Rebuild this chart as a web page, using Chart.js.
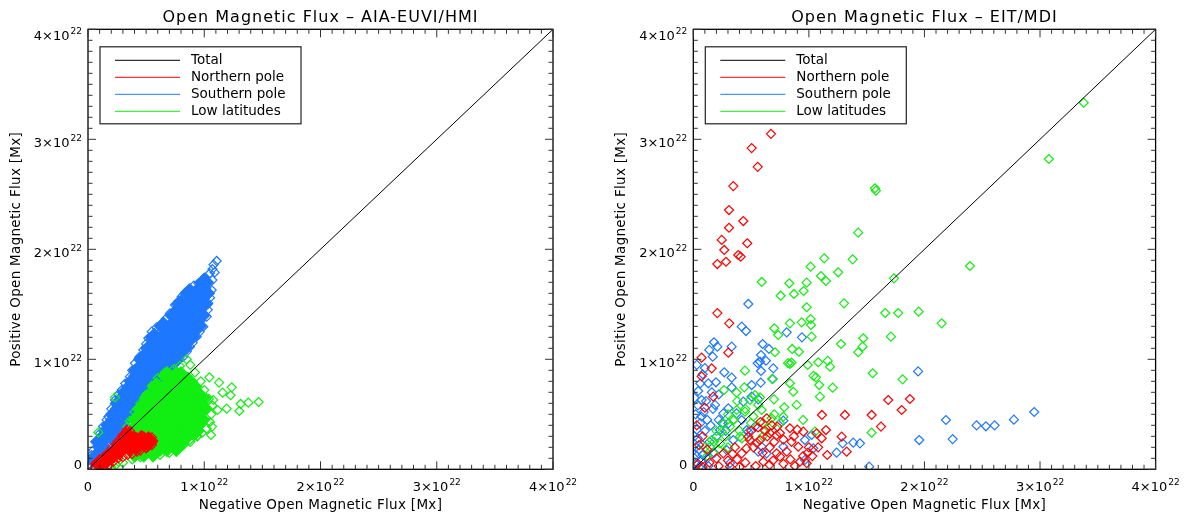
<!DOCTYPE html>
<html>
<head>
<meta charset="utf-8">
<script src="https://cdn.jsdelivr.net/npm/chart.js@4.4.1/dist/chart.umd.min.js"></script>
<style>
  body { margin: 0; background: #fff; }
  .panel { position: absolute; top: 0; width: 594px; height: 519px; }
</style>
</head>
<body>
<div class="panel" style="left:0"><canvas id="aiaChart" width="594" height="519"></canvas></div>
<div class="panel" style="left:594px"><canvas id="eitChart" width="594" height="519"></canvas></div>
<script>
// values in units of 10^22 Mx  (x = negative flux, y = positive flux)
const tickValues = [0, 1, 2, 3, 4];
const tickLabels = ['0', '1×10^22', '2×10^22', '3×10^22', '4×10^22'];
const minorStep = 0.1;
const seriesNames = ['Total', 'Northern pole', 'Southern pole', 'Low latitudes'];
const totalLine = [[0, 0], [4, 4]];

// ---- AIA-EUVI/HMI : dense clouds (core = overlapping markers, edge = outer markers)
const aiaSouthCore = [
  [0.06,0.1],
  [0.12,0.2],
  [0.15,0.3],[0.21,0.3],
  [0.19,0.4],[0.27,0.4],
  [0.23,0.5],[0.31,0.5],[0.35,0.5],
  [0.27,0.6],[0.35,0.6],[0.42,0.6],
  [0.33,0.7],[0.41,0.7],[0.49,0.7],
  [0.39,0.8],[0.47,0.8],[0.55,0.8],[0.58,0.8],
  [0.43,0.9],[0.51,0.9],[0.59,0.9],[0.67,0.9],
  [0.47,1.0],[0.55,1.0],[0.63,1.0],[0.71,1.0],[0.75,1.0],
  [0.53,1.1],[0.61,1.1],[0.69,1.1],[0.77,1.1],[0.82,1.1],
  [0.57,1.2],[0.65,1.2],[0.73,1.2],[0.81,1.2],[0.88,1.2],
  [0.65,1.3],[0.73,1.3],[0.81,1.3],[0.89,1.3],[0.94,1.3],
  [0.74,1.4],[0.82,1.4],[0.90,1.4],[0.97,1.4],
  [0.80,1.5],[0.88,1.5],[0.96,1.5],[0.99,1.5],
  [0.87,1.6],[0.95,1.6],[1.01,1.6],
  [1.00,1.7],
  [0.10,0.25],[0.17,0.35],[0.23,0.45],[0.27,0.55],[0.31,0.65],[0.37,0.75],[0.43,0.85],
  [0.51,0.95],[0.57,1.05],[0.63,1.15],[0.69,1.25],[0.77,1.35],[0.85,1.45],[0.92,1.55],
  [0.98,1.65],[0.39,0.65],[0.45,0.75],[0.53,0.85],[0.61,0.95],[0.67,1.05],[0.75,1.15],
  [0.85,1.25],[0.93,1.35],[0.73,1.05],[0.79,1.25],[0.85,1.35]
];
const aiaSouthEdge = [
  [0.01,0.03],[0.04,0.06],[0.07,0.10],[0.10,0.15],[0.13,0.20],[0.17,0.26],
  [0.017,0.085],[0.03,0.13],[0.046,0.175],[0.07,0.25],[0.103,0.327],[0.13,0.39],
  [0.16,0.45],[0.175,0.479],[0.20,0.55],[0.232,0.63],[0.26,0.68],[0.29,0.721],
  [0.32,0.78],[0.361,0.842],[0.38,0.90],[0.404,0.964],[0.44,1.02],[0.476,1.085],
  [0.50,1.14],[0.519,1.191],[0.548,1.251],[0.59,1.29],[0.634,1.327],[0.67,1.37],
  [0.705,1.418],[0.748,1.494],[0.78,1.53],[0.806,1.569],[0.84,1.61],[0.877,1.645],
  [0.91,1.67],[0.949,1.691],[1.00,1.74],[1.049,1.782],[1.07,1.82],[1.107,1.894],
  [1.08,1.86],[1.09,1.79],[1.07,1.72],[1.064,1.63],[1.05,1.56],[1.035,1.509],
  [1.03,1.45],[1.021,1.388],[0.992,1.297],[0.96,1.25],[0.935,1.206],[0.90,1.15],
  [0.877,1.115],[0.85,1.07],[0.82,1.024],[0.78,0.99],[0.74,0.95]
];
const aiaLowCore = [
  [0.40,0.15],[0.48,0.15],[0.56,0.15],
  [0.47,0.25],[0.55,0.25],[0.63,0.25],[0.71,0.25],[0.79,0.25],
  [0.40,0.35],[0.48,0.35],[0.56,0.35],[0.64,0.35],[0.72,0.35],[0.80,0.35],[0.88,0.35],[0.92,0.35],
  [0.42,0.45],[0.50,0.45],[0.58,0.45],[0.66,0.45],[0.74,0.45],[0.82,0.45],[0.90,0.45],[0.97,0.45],
  [0.46,0.55],[0.54,0.55],[0.62,0.55],[0.70,0.55],[0.78,0.55],[0.86,0.55],[0.94,0.55],[0.99,0.55],
  [0.52,0.65],[0.60,0.65],[0.68,0.65],[0.76,0.65],[0.84,0.65],[0.92,0.65],[0.97,0.65],
  [0.59,0.75],[0.67,0.75],[0.75,0.75],[0.83,0.75],[0.90,0.75],
  [0.68,0.85],[0.76,0.85],[0.80,0.85],
  [0.60,0.20],[0.68,0.20],[0.76,0.20],[0.52,0.30],[0.60,0.30],[0.68,0.30],[0.76,0.30],[0.84,0.30],
  [0.44,0.40],[0.52,0.40],[0.60,0.40],[0.68,0.40],[0.76,0.40],[0.84,0.40],[0.92,0.40],
  [0.46,0.50],[0.54,0.50],[0.62,0.50],[0.70,0.50],[0.78,0.50],[0.86,0.50],[0.94,0.50],
  [0.56,0.60],[0.64,0.60],[0.72,0.60],[0.80,0.60],[0.88,0.60],[0.95,0.60],
  [0.63,0.70],[0.71,0.70],[0.79,0.70],[0.87,0.70],[0.72,0.80],[0.80,0.80],[0.86,0.80]
];
const aiaLowEdge = [
  [0.849,1.0],[0.79,0.94],[0.74,0.91],[0.66,0.88],[0.60,0.83],[0.55,0.76],[0.50,0.68],
  [0.45,0.60],[0.40,0.52],[0.36,0.44],[0.34,0.39],[0.88,0.95],[0.92,0.88],[0.97,0.80],
  [1.00,0.72],[1.04,0.64],[1.07,0.58],[1.06,0.50],[1.05,0.43],[1.02,0.37],[0.98,0.33],
  [0.94,0.30],[0.88,0.25],[0.82,0.22],[0.76,0.18],[0.70,0.15],[0.62,0.13],[0.58,0.14],
  [0.45,0.11],[0.38,0.09],[0.30,0.06],[0.24,0.04],[0.20,0.02],
  [1.044,0.836],[1.127,0.788],[1.236,0.745],[1.158,0.697],[1.227,0.673],[1.313,0.594],
  [1.379,0.606],[1.468,0.612],[1.302,0.53],[1.193,0.551],[1.115,0.539],[1.078,0.63],
  [1.021,0.645],[1.067,0.388],[1.058,0.312],[0.94,0.303],[0.877,0.267],[0.82,0.221],
  [0.089,0.335],[0.232,0.654],[0.619,0.16],[0.763,0.191],[0.261,0.069],[0.447,0.13],
  [0.175,0.024],[0.404,0.112]
];
const aiaNorthCore = [
  [0.10,0.05],[0.16,0.09],[0.22,0.14],[0.27,0.17],[0.28,0.22],[0.32,0.26],[0.33,0.30],
  [0.36,0.20],[0.42,0.22],[0.48,0.24],[0.52,0.25],[0.40,0.26],[0.46,0.27]
];
const aiaNorthEdge = [
  [0.06,0.01],[0.10,0.07],[0.15,0.13],[0.20,0.19],[0.25,0.25],[0.30,0.31],[0.333,0.357],
  [0.36,0.35],[0.37,0.31],[0.42,0.29],[0.48,0.30],[0.52,0.30],[0.55,0.29],[0.56,0.26],
  [0.55,0.22],[0.50,0.19],[0.45,0.17],[0.38,0.14],[0.30,0.11],[0.22,0.07],[0.14,0.03],
  [0.18,0.04],[0.26,0.10],[0.34,0.13],[0.42,0.16],[0.50,0.20]
];

// ---- EIT/MDI : sparse scatter
const eitNorth = [
  [0.672,3.05],[0.505,2.92],[0.557,2.75],[0.346,2.575],[0.309,2.357],[0.433,2.257],[0.309,2.196],
  [0.246,2.085],[0.467,2.055],[0.268,1.994],[0.389,1.948],[0.41,1.933],[0.208,1.866],[0.283,1.887],
  [0.208,1.42],[0.311,1.327],[0.303,1.06],[0.072,1.015],[0.159,0.918],[0.072,0.845],[0.173,0.66],
  [1.687,0.63],[1.874,0.639],[1.803,0.539],[1.113,0.494],[1.312,0.494],[1.543,0.494],[1.624,0.388],
  [1.148,0.357],[1.284,0.297],[1.159,0.13],[1.327,0.16],
  [0.635,0.464],[0.727,0.388],[0.68,0.40],[0.836,0.373],[0.90,0.36],[0.952,0.342],[1.067,0.327],
  [1.111,0.282],[0.87,0.30],[0.908,0.205],[0.808,0.16],[0.75,0.115],[0.84,0.09],[0.923,0.069],
  [0.981,0.055],[0.577,0.266],[0.49,0.266],[0.52,0.20],[0.419,0.145],[0.36,0.20],[0.26,0.145],
  [0.20,0.10],[0.14,0.06],[0.08,0.02],[0.317,0.024],[0.45,0.06],[0.606,0.069],[0.69,0.08],
  [0.721,0.145],[0.476,0.297],[0.55,0.24],[0.663,0.327],[0.75,0.33],[0.62,0.35],[0.56,0.38],
  [0.50,0.35],[0.70,0.25],[0.78,0.27],[0.66,0.20],[0.60,0.15],[0.38,0.09],[0.30,0.08],[0.22,0.03],
  [0.54,0.03],[0.85,0.25],[1.00,0.20],[1.03,0.12],[0.95,0.12],[0.04,0.05],[0.10,0.56],[0.03,0.40],
  [0.08,0.30],[0.05,0.22],[0.12,0.18],[0.58,0.43],[0.64,0.30],[0.72,0.31],[0.66,0.04],[0.78,0.05],
  [0.88,0.03],[0.99,0.15],[0.40,0.02],[0.34,0.14],[0.46,0.19],[1.08,0.20]
];
const eitSouth = [
  [0.476,1.503],[0.419,1.297],[0.456,1.257],[0.808,1.245],[0.94,1.20],[0.179,1.155],[0.208,1.115],
  [0.138,1.085],[0.168,1.024],[0.332,1.115],[0.60,1.139],[0.655,1.094],[0.586,1.039],[0.577,0.978],
  [0.629,0.987],[0.557,0.964],[0.586,0.894],[0.692,0.918],[0.268,0.882],[0.332,0.833],[0.081,0.864],
  [0.196,0.791],[0.13,0.782],[0.505,0.766],[0.583,0.788],[0.687,0.821],[0.332,0.745],[0.043,0.712],
  [0.072,0.63],[0.188,0.585],[0.433,0.615],[0.562,0.636],[0.505,0.66],[0.303,0.555],[0.26,0.509],
  [0.375,0.509],[0.779,0.442],[1.945,0.89],[1.955,0.266],[1.442,0.236],[1.384,0.242],[1.292,0.236],
  [1.24,0.151],[1.522,0.024],[1.038,0.191],[0.966,0.266],[1.024,0.312],[0.966,0.085],[0.592,0.205],
  [0.635,0.145],[0.317,0.055],[0.462,0.357],[0.779,0.205],[2.186,0.448],[2.244,0.275],[2.451,0.40],
  [2.532,0.391],[2.607,0.40],[2.774,0.451],[2.95,0.521],
  [0.419,0.448],[0.534,0.388],[0.476,0.34],[0.303,0.418],[0.231,0.357],[0.346,0.266],[0.289,0.175],
  [0.562,0.16],[0.02,0.05],[0.03,0.12],[0.02,0.20],[0.05,0.18],[0.04,0.28],[0.08,0.22],[0.10,0.35],
  [0.03,0.36],[0.06,0.42],[0.12,0.45],[0.02,0.50],[0.09,0.52],[0.15,0.40],[0.04,0.58],[0.11,0.62],
  [0.16,0.70],[0.22,0.68],[0.25,0.42],[0.20,0.30],[0.14,0.25],[0.07,0.08],[0.12,0.10],[0.18,0.15],
  [0.01,0.30],[0.01,0.65],[0.06,0.78],[0.10,0.92],[0.03,0.95],[0.22,0.45],[0.28,0.35],[0.01,0.10],
  [0.05,0.02],[0.13,0.03],[0.08,0.13],[0.17,0.55],[0.07,0.48]
];
const eitLow = [
  [1.572,2.555],[1.58,2.533],[1.427,2.151],[1.133,1.918],[1.379,1.909],[1.015,1.842],[1.254,1.791],
  [0.592,1.703],[0.831,1.691],[0.981,1.697],[1.105,1.757],[1.148,1.712],[1.736,1.736],[0.756,1.578],
  [0.871,1.594],[0.955,1.621],[1.304,1.509],[0.981,1.473],[1.661,1.421],[1.773,1.421],[1.95,1.433],
  [3.378,3.333],[3.077,2.821],[2.394,1.848],[2.149,1.327],
  [0.836,1.327],[0.938,1.336],[1.015,1.366],[1.018,1.312],[0.701,1.282],[0.735,1.221],[1.024,1.206],
  [1.471,1.191],[1.71,1.206],[1.278,1.139],[1.427,1.064],[1.465,1.115],[0.856,1.094],[0.914,1.069],
  [0.707,1.064],[0.836,0.958],[0.82,0.965],[0.85,0.97],[1.081,0.973],[1.163,0.985],[1.183,0.933],
  [0.99,0.948],[0.447,0.897],[1.061,0.836],[1.04,0.85],[1.552,0.873],[1.811,0.818],[0.683,0.821],
  [0.836,0.782],[1.09,0.766],[1.206,0.742],[0.266,0.721],[0.375,0.697],[0.441,0.745],[0.865,0.705],
  [1.096,0.66],[0.698,0.636],[0.787,0.564],[0.894,0.585],[1.053,0.342],[1.543,0.333],[0.678,0.464],
  [0.534,0.675],[0.577,0.654],[0.49,0.63],[0.562,0.585],[0.592,0.539],[0.375,0.539],[0.447,0.524],
  [0.26,0.418],[0.317,0.388],[0.246,0.342],[0.346,0.448],[0.159,0.266],[0.231,0.236],[0.144,0.205],
  [0.779,0.478],[0.404,0.297],[0.45,0.55],[0.30,0.50],[0.35,0.45],[0.28,0.30],[0.20,0.35],[0.18,0.25],
  [0.10,0.20],[0.22,0.18],[0.30,0.20],[0.40,0.35],[0.42,0.28],[0.60,0.42],[0.65,0.38],[0.50,0.42],
  [0.70,0.50],[0.12,0.12],[0.60,0.30],[0.75,0.42],[0.95,0.45],[0.52,0.48],[0.38,0.62]
];

// ---------------------------------------------------------------
const COLORS = { total: '#000000', north: '#ff0000', south: '#1e78ff', low: '#12ee12' };
const FONT = '"DejaVu Sans", sans-serif';

function cloud(points, color, filled, order) {
  return {
    data: points.map(([x, y]) => ({ x, y })),
    pointStyle: 'rectRot',
    pointRadius: filled ? 9 : 4.5,
    pointBorderColor: color,
    pointBackgroundColor: filled ? color : 'rgba(0,0,0,0)',
    pointBorderWidth: 1.2,
    order: order,
    clip: 0
  };
}

function lineSet(points) {
  return {
    data: points.map(([x, y]) => ({ x, y })),
    showLine: true,
    borderColor: COLORS.total,
    borderWidth: 1,
    pointRadius: 0,
    order: 0,
    clip: 0
  };
}

// draws a label like "1×10^22" with a raised exponent
function drawTickLabel(ctx, text, x, y, align) {
  const parts = text.split('^');
  ctx.font = '13px ' + FONT;
  const w1 = ctx.measureText(parts[0]).width;
  let w2 = 0;
  if (parts[1]) { ctx.font = '9px ' + FONT; w2 = ctx.measureText(parts[1]).width + 1; }
  let x0 = align === 'right' ? x - w1 - w2 : x - (w1 + w2) / 2;
  ctx.textAlign = 'left';
  ctx.textBaseline = 'alphabetic';
  ctx.font = '13px ' + FONT;
  ctx.fillText(parts[0], x0, y);
  if (parts[1]) {
    ctx.font = '9px ' + FONT;
    ctx.fillText(parts[1], x0 + w1 + 1, y - 6);
  }
}

const idlAxes = {
  id: 'idlAxes',
  afterDatasetsDraw(chart, args, opts) {
    const { ctx, chartArea: a, scales: { x, y } } = chart;
    ctx.save();
    ctx.fillStyle = '#000';

    // frame
    ctx.strokeStyle = '#000';
    ctx.lineWidth = 1.3;
    ctx.strokeRect(a.left, a.top, a.right - a.left, a.bottom - a.top);

    // inward ticks on all four sides
    ctx.lineWidth = 1;
    ctx.strokeStyle = '#333';
    ctx.beginPath();
    const nMinor = Math.round(4 / minorStep);
    for (let i = 0; i <= nMinor; i++) {
      const v = i * minorStep;
      const len = i % 10 === 0 ? 8 : 4.5;
      const px = x.getPixelForValue(v), py = y.getPixelForValue(v);
      ctx.moveTo(px, a.bottom); ctx.lineTo(px, a.bottom - len);
      ctx.moveTo(px, a.top); ctx.lineTo(px, a.top + len);
      ctx.moveTo(a.left, py); ctx.lineTo(a.left + len, py);
      ctx.moveTo(a.right, py); ctx.lineTo(a.right - len, py);
    }
    ctx.stroke();

    // tick labels
    tickValues.forEach((v, i) => {
      drawTickLabel(ctx, tickLabels[i], x.getPixelForValue(v), a.bottom + 22, 'center');
      let ly = y.getPixelForValue(v) + 8;
      ly = Math.min(Math.max(ly, a.top + 11), a.bottom);
      drawTickLabel(ctx, tickLabels[i], a.left - 6, ly, 'right');
    });

    // title and axis titles
    const cx = (a.left + a.right) / 2;
    ctx.textAlign = 'center';
    ctx.textBaseline = 'alphabetic';
    ctx.font = '16px ' + FONT;
    ctx.letterSpacing = '1px';
    ctx.fillText(opts.title, cx, 22);
    ctx.font = '13.5px ' + FONT;
    ctx.letterSpacing = '0.3px';
    ctx.fillText('Negative Open Magnetic Flux [Mx]', cx, a.bottom + 40);
    ctx.save();
    ctx.translate(a.left - 72, (a.top + a.bottom) / 2);
    ctx.rotate(-Math.PI / 2);
    ctx.textBaseline = 'middle';
    ctx.fillText('Positive Open Magnetic Flux [Mx]', 0, 0);
    ctx.restore();
    ctx.letterSpacing = '0px';

    // legend box
    const bx = a.left + 12, by = a.top + 17.5, bw = 201, bh = 77;
    ctx.fillStyle = '#fff';
    ctx.fillRect(bx, by, bw, bh);
    ctx.strokeStyle = '#222';
    ctx.lineWidth = 1.2;
    ctx.strokeRect(bx, by, bw, bh);
    const legendColors = [COLORS.total, COLORS.north, COLORS.south, COLORS.low];
    ctx.font = '13.5px ' + FONT;
    ctx.textAlign = 'left';
    ctx.textBaseline = 'middle';
    seriesNames.forEach((name, i) => {
      const ey = a.top + 31 + i * 17;
      ctx.strokeStyle = legendColors[i];
      ctx.lineWidth = 1;
      ctx.beginPath();
      ctx.moveTo(a.left + 27, ey); ctx.lineTo(a.left + 92, ey);
      ctx.stroke();
      ctx.fillStyle = '#000';
      ctx.fillText(name, a.left + 103, ey);
    });
    ctx.restore();
  }
};

function makeChart(id, title, datasets, padding) {
  return new Chart(document.getElementById(id), {
    type: 'scatter',
    data: { datasets: datasets },
    options: {
      responsive: false,
      animation: false,
      events: [],
      layout: { padding: padding },
      scales: {
        x: { type: 'linear', min: 0, max: 4, display: false },
        y: { type: 'linear', min: 0, max: 4, display: false }
      },
      plugins: {
        legend: { display: false },
        tooltip: { enabled: false },
        idlAxes: { title: title }
      }
    },
    plugins: [idlAxes]
  });
}

makeChart('aiaChart', 'Open Magnetic Flux – AIA-EUVI/HMI', [
  lineSet(totalLine),
  cloud(aiaNorthEdge, COLORS.north, false, 1),
  cloud(aiaNorthCore, COLORS.north, true, 2),
  cloud(aiaLowEdge, COLORS.low, false, 3),
  cloud(aiaLowCore, COLORS.low, true, 4),
  cloud(aiaSouthEdge, COLORS.south, false, 5),
  cloud(aiaSouthCore, COLORS.south, true, 6)
], { left: 88, right: 41, top: 29.3, bottom: 49.7 });

makeChart('eitChart', 'Open Magnetic Flux – EIT/MDI', [
  lineSet(totalLine),
  cloud(eitNorth, COLORS.north, false, 1),
  cloud(eitLow, COLORS.low, false, 2),
  cloud(eitSouth, COLORS.south, false, 3)
], { left: 99.3, right: 32.4, top: 29.3, bottom: 49.7 });
</script>
</body>
</html>
